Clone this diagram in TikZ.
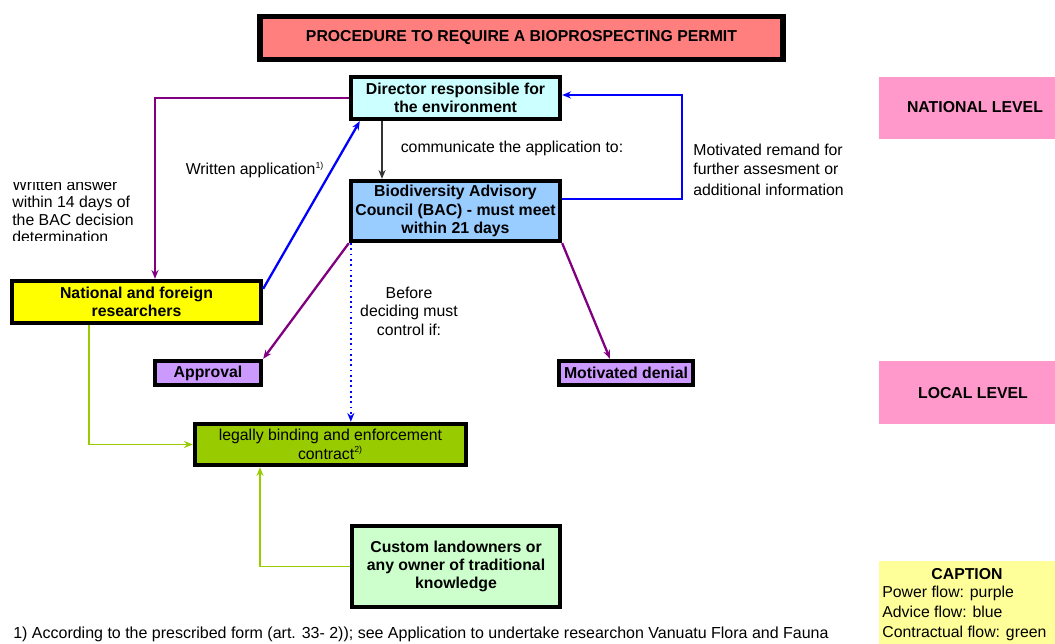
\documentclass[tikz,border=0pt]{standalone}
\usepackage{fontspec}
\setmainfont{Liberation Sans}
\usetikzlibrary{arrows.meta}
\definecolor{titlered}{HTML}{FF7F7F}
\definecolor{dircyan}{HTML}{CCFFFF}
\definecolor{bacblue}{HTML}{99CCFF}
\definecolor{resyellow}{HTML}{FFFF00}
\definecolor{lilac}{HTML}{CC99FF}
\definecolor{contractgreen}{HTML}{99CC00}
\definecolor{landgreen}{HTML}{CCFFCC}
\definecolor{levelpink}{HTML}{FF99CC}
\definecolor{capyellow}{HTML}{FFFF99}
\definecolor{powerpurple}{HTML}{800080}
\definecolor{adviceblue}{HTML}{0000FF}
\definecolor{flowgreen}{HTML}{99CC00}
\tikzset{
  every node/.style={font=\fontsize{9}{10.5}\selectfont},
  boxnode/.style={draw=black, line width=2.5pt, inner sep=0pt, align=center, font=\fontsize{9}{10.5}\selectfont\bfseries},
  plaintext/.style={inner sep=0pt, align=center},
  tip/.style={-{Stealth[length=5pt,width=4pt]}},
  powerline/.style={tip, draw=powerpurple, line width=1.3pt},
  adviceline/.style={tip, draw=adviceblue, line width=1.3pt},
  contractline/.style={tip, draw=flowgreen, line width=1.1pt},
}
\begin{document}
\begin{tikzpicture}[x=0.02cm, y=-0.02cm]
\fill[white] (0,0) rectangle (1055,644);
\useasboundingbox (0,0) rectangle (1055,644);

% level and caption panels
\fill[levelpink] (879,77) rectangle (1055,139);
\node[font=\fontsize{9}{10.5}\selectfont\bfseries] (national) at (975,107) {NATIONAL LEVEL};
\fill[levelpink] (879,361) rectangle (1055,424);
\node[font=\fontsize{9}{10.5}\selectfont\bfseries] (local) at (973,393) {LOCAL LEVEL};
\fill[capyellow] (879,561) rectangle (1055,644);
\node[font=\fontsize{9}{10.5}\selectfont\bfseries] (captitle) at (967,574) {CAPTION};
\node[plaintext, anchor=north west, align=left, font=\fontsize{9}{11.3}\selectfont] (capbody) at (882,586)
  {Power flow: purple\\Advice flow: blue\\Contractual flow: green};

% boxes
\node[boxnode, line width=3pt, fill=titlered, minimum width=10.46cm, minimum height=0.86cm] (title) at (521.5,38)
  {PROCEDURE TO REQUIRE A BIOPROSPECTING PERMIT};
\node[boxnode, fill=dircyan, minimum width=4.18cm, minimum height=0.84cm] (director) at (455.5,98)
  {Director responsible for\\the environment};
\node[boxnode, fill=bacblue, minimum width=4.18cm, minimum height=1.2cm] (bac) at (455.5,211)
  {Biodiversity Advisory\\Council (BAC) - must meet\\within 21 days};
\node[boxnode, fill=resyellow, minimum width=4.98cm, minimum height=0.84cm] (research) at (136.5,302)
  {National and foreign\\researchers};
\node[boxnode, fill=lilac, minimum width=2.12cm, minimum height=0.48cm] (approval) at (208,373) {Approval};
\node[boxnode, fill=lilac, minimum width=2.68cm, minimum height=0.48cm] (denial) at (626,373) {Motivated denial};
\node[boxnode, fill=contractgreen, font=\fontsize{9}{10.5}\selectfont, minimum width=5.42cm, minimum height=0.82cm] (contract) at (330.5,444.5)
  {legally binding and enforcement\\contract\textsuperscript{\tiny 2)}};
\node[boxnode, fill=landgreen, minimum width=4.16cm, minimum height=1.62cm] (land) at (456,566.5)
  {Custom landowners or\\any owner of traditional\\knowledge};

% labels
\node[plaintext] (lblwritten) at (255,170) {Written application\textsuperscript{\tiny 1)}};
\node[plaintext] (lblcomm) at (512,148) {communicate the application to:};
\node[plaintext, anchor=west, align=left] (lblremand) at (693,170)
  {Motivated remand for\\further assesment or\\[1.5pt]additional information};
\node[plaintext] (lblbefore) at (409,311) {Before\\deciding must\\control if:};
\begin{scope}
  \clip (0,183) rectangle (160,241);
  \node[plaintext, anchor=west, align=left, font=\fontsize{9}{9.9}\selectfont] (lblanswer) at (12,211)
    {Written answer\\within 14 days of\\the BAC decision\\determination};
\end{scope}
\node[plaintext, anchor=west, font=\fontsize{9.1}{10.5}\selectfont] (footnote) at (13,634)
  {1) According to the prescribed form (art. 33- 2)); see Application to undertake researchon Vanuatu Flora and Fauna};

% connectors
\draw[powerline] (director.west) -| ([xshift=0.37cm]research.north);
\draw[adviceline] ([yshift=-0.2cm]research.north east) -- ([xshift=0.22cm]director.south west);
\draw[tip, line width=0.6pt, draw=black!80] ([xshift=-1.47cm]director.south) -- ([xshift=-1.47cm]bac.north);
\draw[adviceline] ([yshift=0.24cm]bac.east) -- ++(2.4cm,0) |- ([yshift=0.06cm]director.east);
\draw[powerline] (bac.south west) -- (approval.north east);
\draw[powerline] (bac.south east) -- ([xshift=-0.32cm]denial.north);
\draw[adviceline, line width=1pt, dotted] ([xshift=0.04cm]bac.south west) -- ([xshift=0.04cm]bac.south west |- contract.north);
\draw[contractline] ([xshift=-0.95cm]research.south) |- (contract.west);
\draw[contractline] (land.west) -| ([xshift=-1.41cm]contract.south);
\end{tikzpicture}
\end{document}
